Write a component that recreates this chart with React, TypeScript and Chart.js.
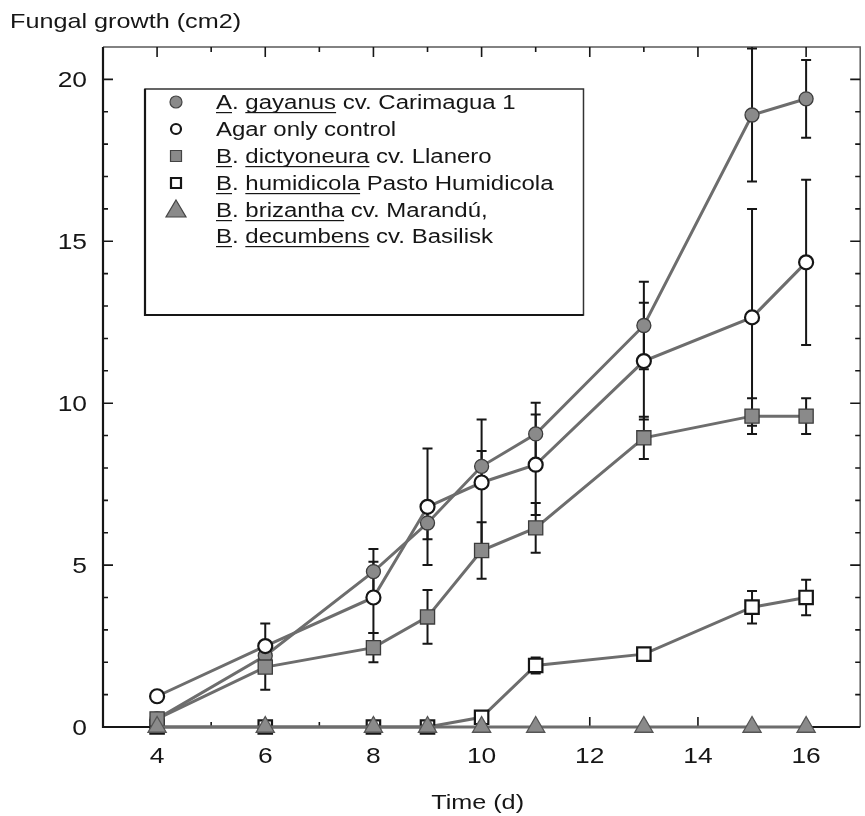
import React, { useEffect, useRef } from 'react';
import { Chart, registerables } from 'chart.js';

Chart.register(...registerables);

// Sampling days (x values shared by every series)
const days = [4, 6, 8, 9, 10, 11, 13, 15, 16];

// Mean fungal growth (cm2) and the half-length of each error bar
const gayanus = [0.25, 2.2, 4.8, 6.3, 8.05, 9.05, 12.4, 18.9, 19.4];
const gayanusErr = [0, 0.3, 0.7, 0.5, 0.47, 0.96, 1.35, 2.05, 1.2];
const agarControl = [0.95, 2.5, 4.0, 6.8, 7.55, 8.1, 11.3, 12.65, 14.35];
const agarControlErr = [0.1, 0.7, 1.1, 1.8, 1.95, 1.55, 1.8, 3.35, 2.55];
const dictyoneura = [0.25, 1.85, 2.45, 3.4, 5.45, 6.15, 8.93, 9.6, 9.6];
const dictyoneuraErr = [0.1, 0.7, 0.45, 0.83, 0.87, 0.77, 0.65, 0.55, 0.55];
const humidicola = [0, 0, 0, 0, 0.3, 1.9, 2.25, 3.7, 4.0];
const humidicolaErr = [0, 0, 0, 0, 0.1, 0.25, 0.15, 0.5, 0.55];
const brizanthaDecumbens = [0, 0, 0, 0, 0, 0, 0, 0, 0];

// Axis labelling
const xTickLabels = [4, 6, 8, 10, 12, 14, 16];
const yTickLabels = [0, 5, 10, 15, 20];
const yAxisTitle = 'Fungal growth (cm2)';
const xAxisTitle = 'Time (d)';

// Legend text, split into [text, underlined] runs
type Run = [string, boolean];
const legendGayanus: Run[] = [['A', true], ['. ', false], ['gayanus', true], [' cv. Carimagua 1', false]];
const legendControl: Run[] = [['Agar only control', false]];
const legendDictyoneura: Run[] = [['B', true], ['. ', false], ['dictyoneura', true], [' cv. Llanero', false]];
const legendHumidicola: Run[] = [['B', true], ['. ', false], ['humidicola', true], [' Pasto Humidicola', false]];
const legendBrizantha: Run[] = [['B', true], ['. ', false], ['brizantha', true], [' cv. Marandú,', false]];
const legendDecumbens: Run[] = [['B', true], ['. ', false], ['decumbens', true], [' cv. Basilisk', false]];

const FONT = '"Liberation Sans", Arial, Helvetica, sans-serif';
const TEXT_STRETCH = 1.2;
const INK = '#161616';
const MARK_GREY = '#8a8a8a';
const LINE_GREY = '#6d6d6d';

const joinRuns = (runs: Run[]) => runs.map((r) => r[0]).join('');

function stretchedText(ctx: CanvasRenderingContext2D, text: string, x: number, y: number, align: 'left' | 'center' | 'right') {
  const w = ctx.measureText(text).width * TEXT_STRETCH;
  let x0 = x;
  if (align === 'center') x0 = x - w / 2;
  else if (align === 'right') x0 = x - w;
  ctx.save();
  ctx.translate(x0, y);
  ctx.scale(TEXT_STRETCH, 1);
  ctx.textAlign = 'left';
  ctx.textBaseline = 'alphabetic';
  ctx.fillText(text, 0, 0);
  ctx.restore();
  return w;
}

// Axis frame with inward tick marks on all four sides
const framePlugin = {
  id: 'frame',
  beforeDatasetsDraw(chart: any) {
    const { ctx, chartArea } = chart;
    const { left: L, right: R, top: T, bottom: B } = chartArea;
    const xs = chart.scales.x;
    const ys = chart.scales.y;
    ctx.save();
    ctx.lineCap = 'butt';
    // top and right edges
    ctx.strokeStyle = '#5a5a5a';
    ctx.lineWidth = 1.5;
    ctx.beginPath();
    ctx.moveTo(L, T);
    ctx.lineTo(R, T);
    ctx.lineTo(R, B);
    ctx.stroke();
    // left and bottom axes
    ctx.strokeStyle = INK;
    ctx.lineWidth = 2.2;
    ctx.beginPath();
    ctx.moveTo(L, T);
    ctx.lineTo(L, B);
    ctx.lineTo(R, B);
    ctx.stroke();
    // ticks
    ctx.lineWidth = 1.6;
    ctx.beginPath();
    for (let v = 1; v <= 20; v++) {
      const py = ys.getPixelForValue(v);
      const len = v % 5 === 0 ? 10 : 5;
      ctx.moveTo(L, py);
      ctx.lineTo(L + len, py);
      ctx.moveTo(R, py);
      ctx.lineTo(R - len, py);
    }
    for (let v = 4; v <= 16; v++) {
      const px = xs.getPixelForValue(v);
      const len = v % 2 === 0 ? 10 : 5;
      ctx.moveTo(px, B);
      ctx.lineTo(px, B - len);
      ctx.moveTo(px, T);
      ctx.lineTo(px, T + len);
    }
    ctx.stroke();
    ctx.restore();
  },
};

// Vertical error bars with caps, drawn beneath the markers
const errorBarPlugin = {
  id: 'errorBars',
  beforeDatasetsDraw(chart: any) {
    const { ctx } = chart;
    const ys = chart.scales.y;
    ctx.save();
    ctx.strokeStyle = INK;
    ctx.lineWidth = 2;
    chart.data.datasets.forEach((ds: any, i: number) => {
      const errs: number[] | undefined = ds.errors;
      if (!errs) return;
      const meta = chart.getDatasetMeta(i);
      meta.data.forEach((pt: any, j: number) => {
        const e = errs[j];
        if (!e) return;
        const v = ds.data[j].y;
        const top = ys.getPixelForValue(v + e);
        const bot = ys.getPixelForValue(v - e);
        const x = pt.x;
        ctx.beginPath();
        ctx.moveTo(x, top);
        ctx.lineTo(x, bot);
        ctx.moveTo(x - 5, top);
        ctx.lineTo(x + 5, top);
        ctx.moveTo(x - 5, bot);
        ctx.lineTo(x + 5, bot);
        ctx.stroke();
      });
    });
    ctx.restore();
  },
};

type Key = 'dot' | 'ring' | 'box' | 'frameBox' | 'tri' | null;

function drawKey(ctx: CanvasRenderingContext2D, key: Key, x: number, y: number) {
  ctx.save();
  ctx.lineWidth = 1.2;
  ctx.strokeStyle = '#444';
  ctx.fillStyle = MARK_GREY;
  ctx.beginPath();
  if (key === 'dot') {
    ctx.arc(x, y, 6, 0, Math.PI * 2);
    ctx.fill();
    ctx.stroke();
  } else if (key === 'ring') {
    ctx.lineWidth = 2.2;
    ctx.strokeStyle = INK;
    ctx.fillStyle = '#fff';
    ctx.arc(x, y, 5, 0, Math.PI * 2);
    ctx.fill();
    ctx.stroke();
  } else if (key === 'box') {
    ctx.rect(x - 5.5, y - 5.5, 11, 11);
    ctx.fill();
    ctx.stroke();
  } else if (key === 'frameBox') {
    ctx.lineWidth = 2.2;
    ctx.strokeStyle = INK;
    ctx.fillStyle = '#fff';
    ctx.rect(x - 5, y - 5, 10, 10);
    ctx.fill();
    ctx.stroke();
  } else if (key === 'tri') {
    ctx.moveTo(x, y - 10);
    ctx.lineTo(x + 10, y + 7);
    ctx.lineTo(x - 10, y + 7);
    ctx.closePath();
    ctx.fill();
    ctx.stroke();
  }
  ctx.restore();
}

// Axis labels, titles and the boxed legend with underlined taxon names
const textPlugin = {
  id: 'texts',
  afterDraw(chart: any) {
    const { ctx, chartArea } = chart;
    const xs = chart.scales.x;
    const ys = chart.scales.y;
    ctx.save();
    ctx.fillStyle = INK;

    ctx.font = `22px ${FONT}`;
    yTickLabels.forEach((v) => {
      stretchedText(ctx, String(v), chartArea.left - 16, ys.getPixelForValue(v) + 8, 'right');
    });
    xTickLabels.forEach((v) => {
      stretchedText(ctx, String(v), xs.getPixelForValue(v), chartArea.bottom + 36, 'center');
    });

    ctx.font = `21px ${FONT}`;
    stretchedText(ctx, yAxisTitle, 10, 28, 'left');
    stretchedText(ctx, xAxisTitle, (chartArea.left + chartArea.right) / 2 - 4, 809, 'center');

    // legend
    const rows: { runs: Run[]; key: Key; base: number }[] = [
      { runs: legendGayanus, key: 'dot', base: 109 },
      { runs: legendControl, key: 'ring', base: 136 },
      { runs: legendDictyoneura, key: 'box', base: 163 },
      { runs: legendHumidicola, key: 'frameBox', base: 190 },
      { runs: legendBrizantha, key: 'tri', base: 217 },
      { runs: legendDecumbens, key: null, base: 243 },
    ];
    ctx.font = `20px ${FONT}`;
    const textX = 216;
    const keyX = 176;
    let maxW = 0;
    rows.forEach((r) => {
      maxW = Math.max(maxW, ctx.measureText(joinRuns(r.runs)).width * TEXT_STRETCH);
    });
    const boxL = 145;
    const boxT = 89;
    const boxB = 315;
    const boxR = textX + maxW + 30;
    ctx.fillStyle = '#fff';
    ctx.fillRect(boxL, boxT, boxR - boxL, boxB - boxT);
    ctx.strokeStyle = '#333';
    ctx.lineWidth = 1.5;
    ctx.strokeRect(boxL, boxT, boxR - boxL, boxB - boxT);
    ctx.lineWidth = 2.2;
    ctx.strokeStyle = INK;
    ctx.beginPath();
    ctx.moveTo(boxL, boxT);
    ctx.lineTo(boxL, boxB);
    ctx.lineTo(boxR, boxB);
    ctx.stroke();

    rows.forEach((r) => {
      if (r.key) drawKey(ctx, r.key, keyX, r.base - 7);
      let x = textX;
      ctx.fillStyle = INK;
      r.runs.forEach(([t, under]) => {
        const w = stretchedText(ctx, t, x, r.base, 'left');
        if (under) {
          ctx.fillRect(x, r.base + 3, w, 1.2);
        }
        x += w;
      });
    });
    ctx.restore();
  },
};

const toPoints = (ys: number[]) => ys.map((y, i) => ({ x: days[i], y }));

export default function App() {
  const canvasRef = useRef<HTMLCanvasElement | null>(null);

  useEffect(() => {
    const canvas = canvasRef.current;
    if (!canvas) return;
    const common = {
      borderColor: LINE_GREY,
      borderWidth: 3,
      pointBorderColor: '#3c3c3c',
      pointBorderWidth: 1.3,
      clip: false as const,
      tension: 0,
    };
    const chart = new Chart(canvas, {
      type: 'line',
      data: {
        datasets: [
          {
            ...common,
            label: joinRuns(legendGayanus),
            data: toPoints(gayanus),
            errors: gayanusErr,
            pointStyle: 'circle',
            pointRadius: 7,
            pointBackgroundColor: MARK_GREY,
            order: 4,
          } as any,
          {
            ...common,
            label: joinRuns(legendControl),
            data: toPoints(agarControl),
            errors: agarControlErr,
            pointStyle: 'circle',
            pointRadius: 7,
            pointBackgroundColor: '#ffffff',
            pointBorderColor: INK,
            pointBorderWidth: 2.2,
            order: 3,
          } as any,
          {
            ...common,
            label: joinRuns(legendDictyoneura),
            data: toPoints(dictyoneura),
            errors: dictyoneuraErr,
            pointStyle: 'rect',
            pointRadius: 10,
            pointBackgroundColor: MARK_GREY,
            order: 1,
          } as any,
          {
            ...common,
            label: joinRuns(legendHumidicola),
            data: toPoints(humidicola),
            errors: humidicolaErr,
            pointStyle: 'rect',
            pointRadius: 9.5,
            pointBackgroundColor: '#ffffff',
            pointBorderColor: INK,
            pointBorderWidth: 2.2,
            order: 2,
          } as any,
          {
            ...common,
            label: joinRuns(legendBrizantha) + ' ' + joinRuns(legendDecumbens),
            data: toPoints(brizanthaDecumbens),
            pointStyle: 'triangle',
            pointRadius: 10.5,
            pointBackgroundColor: MARK_GREY,
            pointBorderColor: '#555',
            order: 0,
          } as any,
        ],
      },
      options: {
        animation: false,
        responsive: true,
        maintainAspectRatio: false,
        layout: { padding: { left: 103, top: 47, right: 1, bottom: 89 } },
        scales: {
          x: { type: 'linear', min: 3, max: 17, display: false },
          y: { type: 'linear', min: 0, max: 21, display: false },
        },
        plugins: {
          legend: { display: false },
          title: { display: false },
          tooltip: { enabled: false },
        },
      },
      plugins: [framePlugin, errorBarPlugin, textPlugin],
    });
    return () => chart.destroy();
  }, []);

  return (
    <div style={{ position: 'fixed', left: 0, top: 0, width: 865, height: 816, overflow: 'hidden', background: '#fff' }}>
      <div style={{ position: 'relative', width: 872, height: 816 }}>
        <canvas ref={canvasRef} />
      </div>
    </div>
  );
}
